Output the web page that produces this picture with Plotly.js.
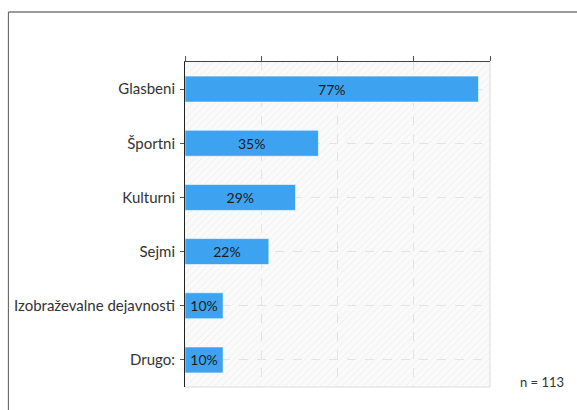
<!DOCTYPE html>
<html>
<head>
<meta charset="utf-8">
<script src="https://cdn.plot.ly/plotly-3.0.1.min.js"></script>
<style>html,body{margin:0;padding:0;background:#fff;}#chart{width:577px;height:410px;}</style>
</head>
<body>
<div id="chart"></div>
<script>
const categories = ["Glasbeni", "Športni", "Kulturni", "Sejmi", "Izobraževalne dejavnosti", "Drugo:"];
const values = [77, 35, 29, 22, 10, 10];
const sampleLabel = "n = 113";
const xRange = [0, 80];
const bgBox = { x: [0, 80, 80, 0, 0], y: [0, 0, 1, 1, 0] };

const font = "Lato, 'Open Sans', sans-serif";

const bgTrace = {
  type: "scatter", mode: "lines",
  x: bgBox.x, y: bgBox.y, yaxis: "y",
  fill: "toself", fillcolor: "rgba(0,0,0,0)",
  fillpattern: { shape: "/", fgcolor: "#ebebeb", bgcolor: "rgba(0,0,0,0)", size: 5, solidity: 0.15 },
  line: { width: 0 }, hoverinfo: "skip", showlegend: false
};

const barTrace = {
  type: "bar", orientation: "h",
  x: values, y: categories, yaxis: "y2",
  width: 0.48,
  marker: { color: "#3da3f1", line: { color: "rgba(255,255,255,0.6)", width: 1 } },
  texttemplate: "%{x}%",
  textposition: "inside",
  insidetextanchor: "middle",
  constraintext: "none",
  textfont: { family: font, size: 14, color: "#1b1b1b" },
  hoverinfo: "skip", showlegend: false
};

const layout = {
  width: 577, height: 410,
  margin: { l: 185, r: 87, t: 62, b: 23, pad: 0 },
  paper_bgcolor: "#ffffff",
  plot_bgcolor: "#fafafa",
  font: { family: font, size: 15, color: "#333" },
  bargap: 0.5,
  xaxis: {
    side: "top", range: xRange, dtick: 20, tick0: 0,
    showticklabels: false, ticks: "outside", ticklen: 5, tickcolor: "#555", tickwidth: 1,
    showline: true, linecolor: "#444", linewidth: 1,
    showgrid: true, gridcolor: "#e2e2e2", griddash: "dash", gridwidth: 1,
    zeroline: false, fixedrange: true
  },
  yaxis: { range: [0, 1], visible: false, showgrid: false, fixedrange: true },
  yaxis2: {
    overlaying: "y", side: "left",
    type: "category", categoryorder: "array", categoryarray: categories,
    autorange: "reversed",
    ticks: "outside", ticklen: 4, tickcolor: "#555",
    showline: true, linecolor: "#222", linewidth: 1,
    showgrid: true, gridcolor: "#e2e2e2", griddash: "dash",
    tickfont: { family: font, size: 15, color: "#333" },
    ticklabelstandoff: 2,
    fixedrange: true
  },
  shapes: [
    { type: "line", xref: "x domain", yref: "y domain", x0: 1, x1: 1, y0: 0, y1: 1, line: { color: "#dcdcdc", width: 1 } },
    { type: "line", xref: "x domain", yref: "y domain", x0: 0, x1: 1, y0: 0, y1: 0, line: { color: "#dcdcdc", width: 1 } },
    { type: "line", xref: "paper", yref: "paper", x0: -0.579, x1: 2, y0: 1.1538, y1: 1.1538, line: { color: "#7a7a7a", width: 1.5 } },
    { type: "line", xref: "paper", yref: "paper", x0: -0.579, x1: -0.579, y0: 1.1538, y1: -0.5, line: { color: "#5a5a5a", width: 1 } }
  ],
  annotations: [
    { text: sampleLabel, xref: "paper", yref: "paper", x: 1.249, y: 0.015, xanchor: "right", yanchor: "middle",
      showarrow: false, font: { family: font, size: 13, color: "#333" } }
  ]
};

Plotly.newPlot("chart", [bgTrace, barTrace], layout, { staticPlot: true, displayModeBar: false });
</script>
</body>
</html>
